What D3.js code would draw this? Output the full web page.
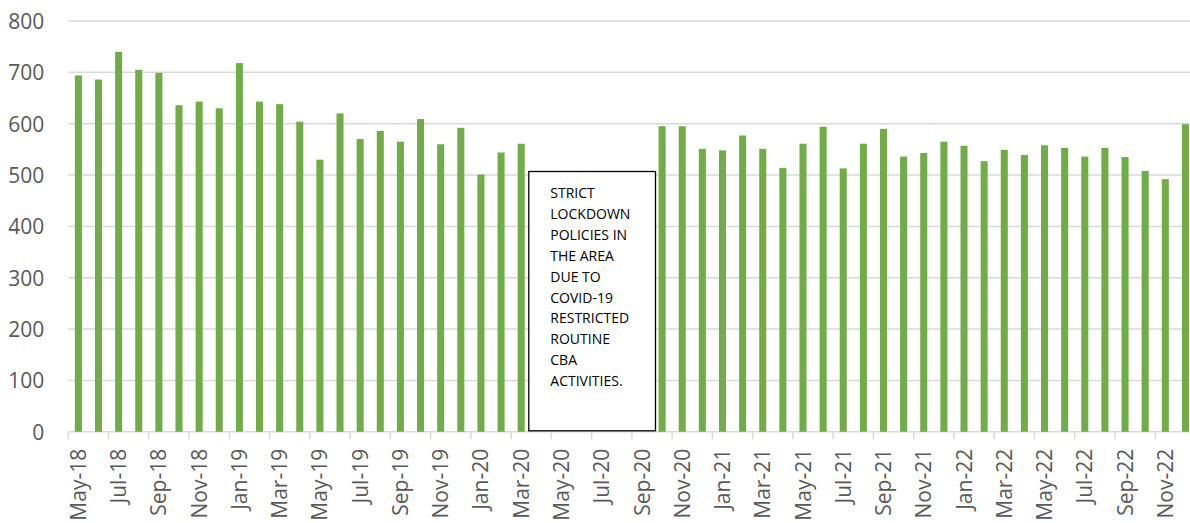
<!DOCTYPE html>
<html>
<head>
<meta charset="utf-8">
<script src="https://cdn.jsdelivr.net/npm/d3@7"></script>
<style>
  html, body { margin: 0; padding: 0; background: #ffffff; }
  svg { display: block; }
  .ylab text, .xlab text { font-family: "Open Sans", "Liberation Sans", sans-serif; fill: #595959; }
  .note { font-family: "Open Sans", "Liberation Sans", sans-serif; fill: #000000; }
</style>
</head>
<body>
<svg id="chart" width="1190" height="523"></svg>
<script>
// Monthly counts, May 2018 – Dec 2022 (no activity recorded Apr–Sep 2020)
const months = [
  "May-18","Jun-18","Jul-18","Aug-18","Sep-18","Oct-18","Nov-18","Dec-18",
  "Jan-19","Feb-19","Mar-19","Apr-19","May-19","Jun-19","Jul-19","Aug-19","Sep-19","Oct-19","Nov-19","Dec-19",
  "Jan-20","Feb-20","Mar-20","Apr-20","May-20","Jun-20","Jul-20","Aug-20","Sep-20","Oct-20","Nov-20","Dec-20",
  "Jan-21","Feb-21","Mar-21","Apr-21","May-21","Jun-21","Jul-21","Aug-21","Sep-21","Oct-21","Nov-21","Dec-21",
  "Jan-22","Feb-22","Mar-22","Apr-22","May-22","Jun-22","Jul-22","Aug-22","Sep-22","Oct-22","Nov-22","Dec-22"
];
const counts = [
  694, 686, 740, 705, 699, 636, 643, 630,
  718, 643, 638, 604, 530, 620, 570, 586, 565, 609, 560, 592,
  501, 544, 561, null, null, null, null, null, null, 595, 595, 551,
  548, 577, 551, 514, 561, 594, 513, 561, 590, 536, 543, 565,
  557, 527, 549, 539, 558, 553, 536, 553, 535, 508, 492, 599
];
const yTicks = [0, 100, 200, 300, 400, 500, 600, 700, 800];
const noteLines = [
  "STRICT", "LOCKDOWN", "POLICIES IN", "THE AREA", "DUE TO",
  "COVID-19", "RESTRICTED", "ROUTINE", "CBA", "ACTIVITIES."
];
// the note box spans the months without data
const noteFrom = "Apr-20", noteTo = "Sep-20";

const data = months.map((m, i) => ({ month: m, value: counts[i] }));

const svg = d3.select("#chart");
const plotLeft = 68.3, plotRight = 1195.5, plotTop = 21, plotBottom = 431.8;

const x = d3.scaleBand()
  .domain(months)
  .range([plotLeft, plotRight])
  .paddingInner(0.65)
  .paddingOuter(0.325);

const y = d3.scaleLinear().domain([0, 800]).range([plotBottom, plotTop]);

// horizontal gridlines
svg.append("g")
  .selectAll("line")
  .data(yTicks)
  .join("line")
  .attr("x1", plotLeft)
  .attr("x2", plotRight)
  .attr("y1", d => y(d))
  .attr("y2", d => y(d))
  .attr("stroke", "#d9d9d9")
  .attr("stroke-width", 1.5);

// y axis labels
const yAxis = d3.axisLeft(y).tickValues(yTicks).tickSize(0).tickPadding(24);
svg.append("g")
  .attr("class", "ylab")
  .attr("transform", `translate(${plotLeft},0)`)
  .call(yAxis)
  .call(g => g.select(".domain").remove())
  .selectAll("text")
  .attr("font-size", 21)
  .attr("dy", "0.35em");

// category boundary ticks, every second month
const half = (x.step() - x.bandwidth()) / 2;
const boundaries = months.filter((m, i) => i % 2 === 0).map(m => x(m) - half);
boundaries.push(x(months[months.length - 1]) + x.bandwidth() + half);
svg.append("g")
  .selectAll("line")
  .data(boundaries)
  .join("line")
  .attr("x1", d => d)
  .attr("x2", d => d)
  .attr("y1", plotBottom)
  .attr("y2", plotBottom + 7.5)
  .attr("stroke", "#d9d9d9")
  .attr("stroke-width", 1.5);

// x axis labels (every second month), rotated
const xAxis = d3.axisBottom(x)
  .tickValues(months.filter((m, i) => i % 2 === 0))
  .tickSize(0)
  .tickSizeOuter(0);
svg.append("g")
  .attr("class", "xlab")
  .attr("transform", `translate(0,${plotBottom})`)
  .call(xAxis)
  .call(g => g.select(".domain").remove())
  .selectAll("text")
  .attr("font-size", 21)
  .attr("transform", "rotate(-90)")
  .attr("text-anchor", "end")
  .attr("x", -17)
  .attr("y", 0)
  .attr("dy", "0.36em");

// bars
svg.append("g")
  .selectAll("rect")
  .data(data.filter(d => d.value !== null))
  .join("rect")
  .attr("x", d => x(d.month))
  .attr("width", x.bandwidth())
  .attr("y", d => y(d.value))
  .attr("height", d => y(0) - y(d.value))
  .attr("fill", "#70ad47");

// note box over the gap
const bx0 = x(noteFrom) - 9;
const bx1 = x(noteTo) + x.bandwidth() + 10;
const by0 = 171.5;
const note = svg.append("g");
note.append("rect")
  .attr("x", bx0)
  .attr("y", by0)
  .attr("width", bx1 - bx0)
  .attr("height", plotBottom - 1 - by0)
  .attr("fill", "#ffffff")
  .attr("stroke", "#000000")
  .attr("stroke-width", 1.3);
note.append("g")
  .selectAll("text")
  .data(noteLines)
  .join("text")
  .attr("class", "note")
  .attr("x", bx0 + 21.5)
  .attr("y", (d, i) => 198.3 + i * 20.85)
  .attr("font-size", 14)
  .text(d => d);
</script>
</body>
</html>
